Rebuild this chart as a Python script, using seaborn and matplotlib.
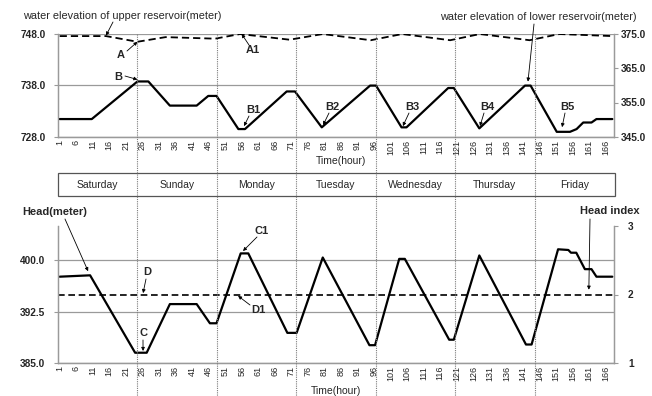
import matplotlib
matplotlib.use("Agg")
import matplotlib.pyplot as plt
import seaborn as sns
import pandas as pd
from matplotlib.transforms import blended_transform_factory
from matplotlib.lines import Line2D
from matplotlib.patches import Rectangle

# ---------------- data ----------------
upper_hours = [1, 15, 24.5, 33, 48, 55.5, 70.5, 80.5, 95, 104.5, 119, 128, 143, 152, 168]
upper_elev = [747.5, 747.5, 746.4, 747.3, 747.0, 747.9, 746.8, 747.9, 746.7, 747.9, 746.7,
              747.9, 746.7, 747.9, 747.5]

lower_hours = [1, 10.7, 24.5, 27.8, 34.3, 42.4, 45.9, 48.4, 55, 57, 69.6, 72.1, 80.2, 94.8,
               96.6, 104.3, 105.8, 118.4, 120.1, 127.8, 141.6, 143.3, 151.2, 155.2, 157.2,
               159.2, 161.7, 163.2, 168]
lower_elev = [350.2, 350.2, 361.1, 361.1, 354.1, 354.1, 356.9, 356.9, 347.3, 347.3, 358.2,
              358.2, 347.8, 359.9, 359.9, 347.8, 347.8, 359.2, 359.2, 347.5, 359.9, 359.9,
              346.5, 346.5, 347.3, 349.2, 349.2, 350.2, 350.2]

head_hours = [1, 10.2, 23.8, 27.3, 34.3, 42.4, 46.4, 48.4, 55.7, 58, 69.8, 72.6, 80.5, 94.6,
              96.3, 103.6, 105.3, 118.7, 120.1, 127.8, 141.9, 143.6, 151.6, 154.7, 155.5,
              157.1, 159.7, 161.7, 163.2, 168]
head_m = [397.6, 397.8, 386.5, 386.5, 393.6, 393.6, 390.8, 390.8, 401.0, 401.0, 389.4, 389.4,
          400.4, 387.6, 387.6, 400.2, 400.2, 388.4, 388.4, 400.7, 387.7, 387.7, 401.6, 401.5,
          401.1, 401.1, 398.7, 398.7, 397.6, 397.6]

design_head = 395.0
days = ["Saturday", "Sunday", "Monday", "Tuesday", "Wednesday", "Thursday", "Friday"]
hour_ticks = list(range(1, 167, 5))
day_bounds = [0.5, 24.5, 48.5, 72.5, 96.5, 120.5, 144.5, 168.5]

# ---------------- style ----------------
sns.set_theme(style="white")
plt.rcParams["font.family"] = ["Liberation Sans", "DejaVu Sans"]

W, H = 652, 396
fig = plt.figure(figsize=(W / 100, H / 100), dpi=100)

def fx(px):
    return px / W

def fy(py):
    return 1 - py / H

L, R = 58, 614
ax_top = fig.add_axes([fx(L), fy(137), fx(R - L), (137 - 33.5) / H])
ax_bot = fig.add_axes([fx(L), fy(363), fx(R - L), (363 - 226) / H])
ax_top2 = ax_top.twinx()
ax_bot2 = ax_bot.twinx()

grey = "#9a9a9a"

# top panel lines
sns.lineplot(x=upper_hours, y=upper_elev, ax=ax_top, color="black", lw=1.3)
ax_top.lines[-1].set_dashes([4, 2.2])
sns.lineplot(x=lower_hours, y=lower_elev, ax=ax_top2, color="black", lw=1.6)

# bottom panel lines
sns.lineplot(x=head_hours, y=head_m, ax=ax_bot, color="black", lw=1.6)
ax_bot.axhline(design_head, color="black", lw=1.2, dashes=[4, 2.2])

for ax in (ax_top, ax_bot, ax_top2, ax_bot2):
    ax.set_xlim(0.5, 168.5)
    ax.set_facecolor("none")
    for s in ax.spines.values():
        s.set_color(grey)
        s.set_linewidth(0.9)
    ax.spines["top"].set_visible(False)

ax_top.set_ylim(728, 748)
ax_top.set_yticks([728, 738, 748])
ax_top.set_yticklabels(["728.0", "738.0", "748.0"])
ax_top2.set_ylim(345, 375)
ax_top2.set_yticks([345, 355, 365, 375])
ax_top2.set_yticklabels(["345.0", "355.0", "365.0", "375.0"])
ax_bot.set_ylim(385, 405)
ax_bot.set_yticks([385, 392.5, 400])
ax_bot.set_yticklabels(["385.0", "392.5", "400.0"])
ax_bot2.set_ylim(1, 3)
ax_bot2.set_yticks([1, 2, 3])

for ax in (ax_top, ax_bot):
    ax.yaxis.grid(True, color=grey, lw=0.9)
    ax.set_axisbelow(True)
    ax.set_xticks(hour_ticks)
    ax.set_xticklabels([str(h) for h in hour_ticks], rotation=90, fontsize=6.5)
    ax.tick_params(axis="x", length=0, pad=2)
    ax.tick_params(axis="y", length=3, width=0.8, color=grey, pad=6, labelsize=7.3)
    for t in ax.get_yticklabels():
        t.set_fontweight("bold")
    ax.set_xlabel("")
    ax.set_ylabel("")
for ax in (ax_top2, ax_bot2):
    ax.set_ylabel("")
    ax.tick_params(axis="y", length=3, width=0.8, color=grey, labelsize=7.3)
    for t in ax.get_yticklabels():
        t.set_fontweight("bold")
ax_top2.tick_params(axis="y", pad=2)
ax_bot2.tick_params(axis="y", pad=7)
ax_top2.spines["right"].set_visible(True)
ax_bot2.spines["right"].set_visible(True)

# day separators (dotted, spanning the whole figure)
tr = blended_transform_factory(ax_top.transData, fig.transFigure)
for b in day_bounds[1:-1]:
    fig.add_artist(Line2D([b, b], [fy(33.5), fy(396)], transform=tr, color="#7a7a7a",
                          lw=0.8, linestyle=(0, (1, 1))))

# day table
fig.add_artist(Rectangle((fx(L), fy(196)), fx(615 - L), (196 - 173) / H,
                         transform=fig.transFigure, fill=False, edgecolor="#555555", lw=0.9))
for i, d in enumerate(days):
    xc = (day_bounds[i] + day_bounds[i + 1]) / 2
    fig.text(xc, fy(185), d, transform=tr, ha="center", va="center", fontsize=7.5)

# axis titles
fig.text(fx(341), fy(161), "Time(hour)", ha="center", va="center", fontsize=7.5)
fig.text(fx(336), fy(391), "Time(hour)", ha="center", va="center", fontsize=7.5)

# annotations
def ann(ax, text, tip, tpos, spos, bold=False, fs=8):
    ax.annotate("", xy=tip, xycoords="data",
                xytext=(spos[0], H - spos[1]), textcoords="figure pixels",
                arrowprops=dict(arrowstyle="-|>", color="black", lw=0.6,
                                mutation_scale=5, shrinkA=0, shrinkB=0))
    fig.text(fx(tpos[0]), fy(tpos[1]), text, ha="center", va="center", fontsize=fs,
             fontweight="bold" if bold else "normal")

ann(ax_top, "water elevation of upper reservoir(meter)", (15, 747.6), (122, 16), (113, 22), fs=7.8)
ann(ax_top, "A", (24.5, 746.4), (121, 55), (127, 51), bold=True)
ann(ax_top, "A1", (56, 747.9), (253, 50), (249, 45), bold=True)
ann(ax_top, "B", (24.5, 739.1), (118, 77), (125, 76), bold=True)
ann(ax_top, "B1", (56.7, 730.1), (253, 110), (249, 116), bold=True)
ann(ax_top, "B2", (80.6, 730.3), (332, 107), (329, 113), bold=True)
ann(ax_top, "B3", (104.7, 730.1), (412, 107), (409, 113), bold=True)
ann(ax_top, "B4", (128, 730.1), (487, 107), (484, 113), bold=True)
ann(ax_top, "B5", (152.8, 729.9), (567, 107), (565, 113), bold=True)
ann(ax_top, "water elevation of lower reservoir(meter)", (142.5, 738.7), (538, 17), (534, 24), fs=7.8)

ann(ax_bot, "Head(meter)", (9.6, 398.4), (55, 212), (65, 219), bold=True)
ann(ax_bot, "D", (26.2, 395.2), (147, 272), (146, 279), bold=True)
ann(ax_bot, "D1", (54.9, 394.8), (258, 310), (250, 305), bold=True)
ann(ax_bot, "C", (26.2, 386.75), (143, 333), (143, 340), bold=True)
ann(ax_bot, "C1", (56.4, 401.35), (262, 231), (257, 237), bold=True)
ann(ax_bot, "Head index", (160.9, 395.7), (610, 211), (590, 219), bold=True)

fig.savefig("out.png", dpi=100)
